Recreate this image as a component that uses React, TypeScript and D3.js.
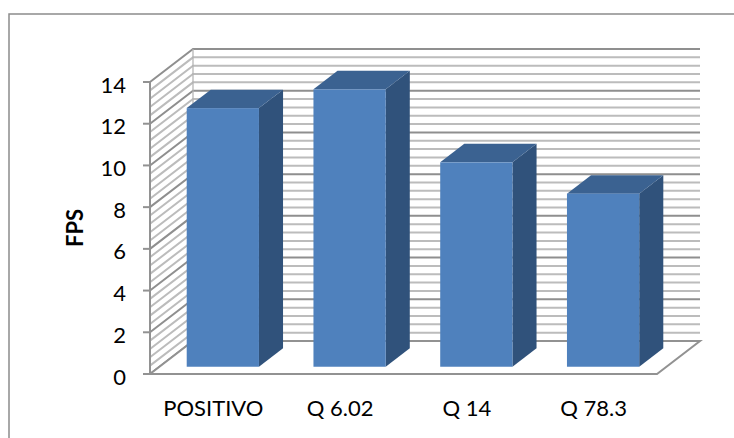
import React from "react";
import * as d3 from "d3";

const categories = ["POSITIVO", "Q 6.02", "Q 14", "Q 78.3"];
const fpsValues = [12.4, 13.3, 9.8, 8.3];
const majorTicks = [0, 2, 4, 6, 8, 10, 12, 14];
const minorStep = 0.4;

const FONT = "Lato, Carlito, 'Open Sans', sans-serif";
const WIDTH = 734;
const HEIGHT = 438;
const LABEL_SIZE = 22;

// Floor depth of the 3D box and the depth occupied by each column.
const DEPTH = { dx: 43, dy: -33 };
const BAR_START = 0.22;
const BAR_DEPTH = 0.56;

const x = d3.scaleBand<string>().domain(categories).range([150, 657]);
const y = d3.scaleLinear().domain([0, 14]).range([374, 82]);

const poly = (pts: [number, number][]) => d3.line()(pts)! + "Z";

export default function App() {
  const minor = d3.range(0, 14 + minorStep / 2, minorStep).map((v) => +v.toFixed(1));
  const isMajor = (v: number) => Math.abs(v / 2 - Math.round(v / 2)) < 1e-6;
  const x0 = x.range()[0];
  const x1 = x.range()[1];
  const barWidth = x.bandwidth() * 0.57;

  return (
    <svg
      width={WIDTH}
      height={HEIGHT}
      viewBox={`0 0 ${WIDTH} ${HEIGHT}`}
      style={{ position: "absolute", left: 0, top: 0, fontFamily: FONT }}
    >
      {/* Chart frame runs off the right and bottom of the canvas */}
      <rect x={9} y={14} width={760} height={460} fill="#fff" stroke="#8c8c8c" strokeWidth={1.5} />

      {/* Side and back walls */}
      {minor.map((v) => {
        const yy = y(v);
        const major = isMajor(v);
        return (
          <path
            key={v}
            d={d3.line()([[x0, yy], [x0 + DEPTH.dx, yy + DEPTH.dy], [x1 + DEPTH.dx, yy + DEPTH.dy]])!}
            fill="none"
            stroke={major ? "#8f8f8f" : "#bcbcbc"}
            strokeWidth={2}
          />
        );
      })}

      {/* Floor outline */}
      <path
        d={poly([
          [x0, y(0)],
          [x1, y(0)],
          [x1 + DEPTH.dx, y(0) + DEPTH.dy],
          [x0 + DEPTH.dx, y(0) + DEPTH.dy],
        ])}
        fill="#fff"
        stroke="#929292"
        strokeWidth={2}
      />
      <path
        d={d3.line()([[x0 + DEPTH.dx, y(14) + DEPTH.dy], [x0 + DEPTH.dx, y(0) + DEPTH.dy]])!}
        stroke="#b0b0b0"
        strokeWidth={1.2}
        fill="none"
      />

      {/* Value axis with outer ticks */}
      <path d={d3.line()([[x0, y(0)], [x0, y(14)]])!} stroke="#929292" strokeWidth={2} fill="none" />
      {majorTicks.map((t) => (
        <g key={t}>
          <line x1={x0 - 7} x2={x0} y1={y(t)} y2={y(t)} stroke="#929292" strokeWidth={2} />
          <text x={126} y={y(t) + 10.5} fontSize={LABEL_SIZE} textAnchor="end" fill="#000">
            {t}
          </text>
        </g>
      ))}

      {/* Columns */}
      {categories.map((c, i) => {
        const left = x(c)! + (x.bandwidth() - barWidth) / 2 + DEPTH.dx * BAR_START;
        const right = left + barWidth;
        const shiftY = DEPTH.dy * BAR_START;
        const top = y(fpsValues[i]) + shiftY;
        const bottom = y(0) + shiftY;
        const bx = DEPTH.dx * BAR_DEPTH;
        const by = DEPTH.dy * BAR_DEPTH;
        return (
          <g key={c}>
            <path d={poly([[right, top], [right + bx, top + by], [right + bx, bottom + by], [right, bottom]])} fill="#30527b" />
            <path d={poly([[left, top], [right, top], [right + bx, top + by], [left + bx, top + by]])} fill="#3b6291" />
            <rect x={left} y={top} width={barWidth} height={bottom - top} fill="#4f81bd" />
          </g>
        );
      })}

      {/* Category labels */}
      {categories.map((c) => (
        <text key={c} x={x(c)! + x.bandwidth() / 2} y={416} fontSize={LABEL_SIZE} textAnchor="middle" fill="#000">
          {c}
        </text>
      ))}

      <text
        transform="translate(83,228) rotate(-90)"
        fontSize={LABEL_SIZE}
        fontWeight="bold"
        textAnchor="middle"
        fill="#000"
      >
        FPS
      </text>
    </svg>
  );
}
